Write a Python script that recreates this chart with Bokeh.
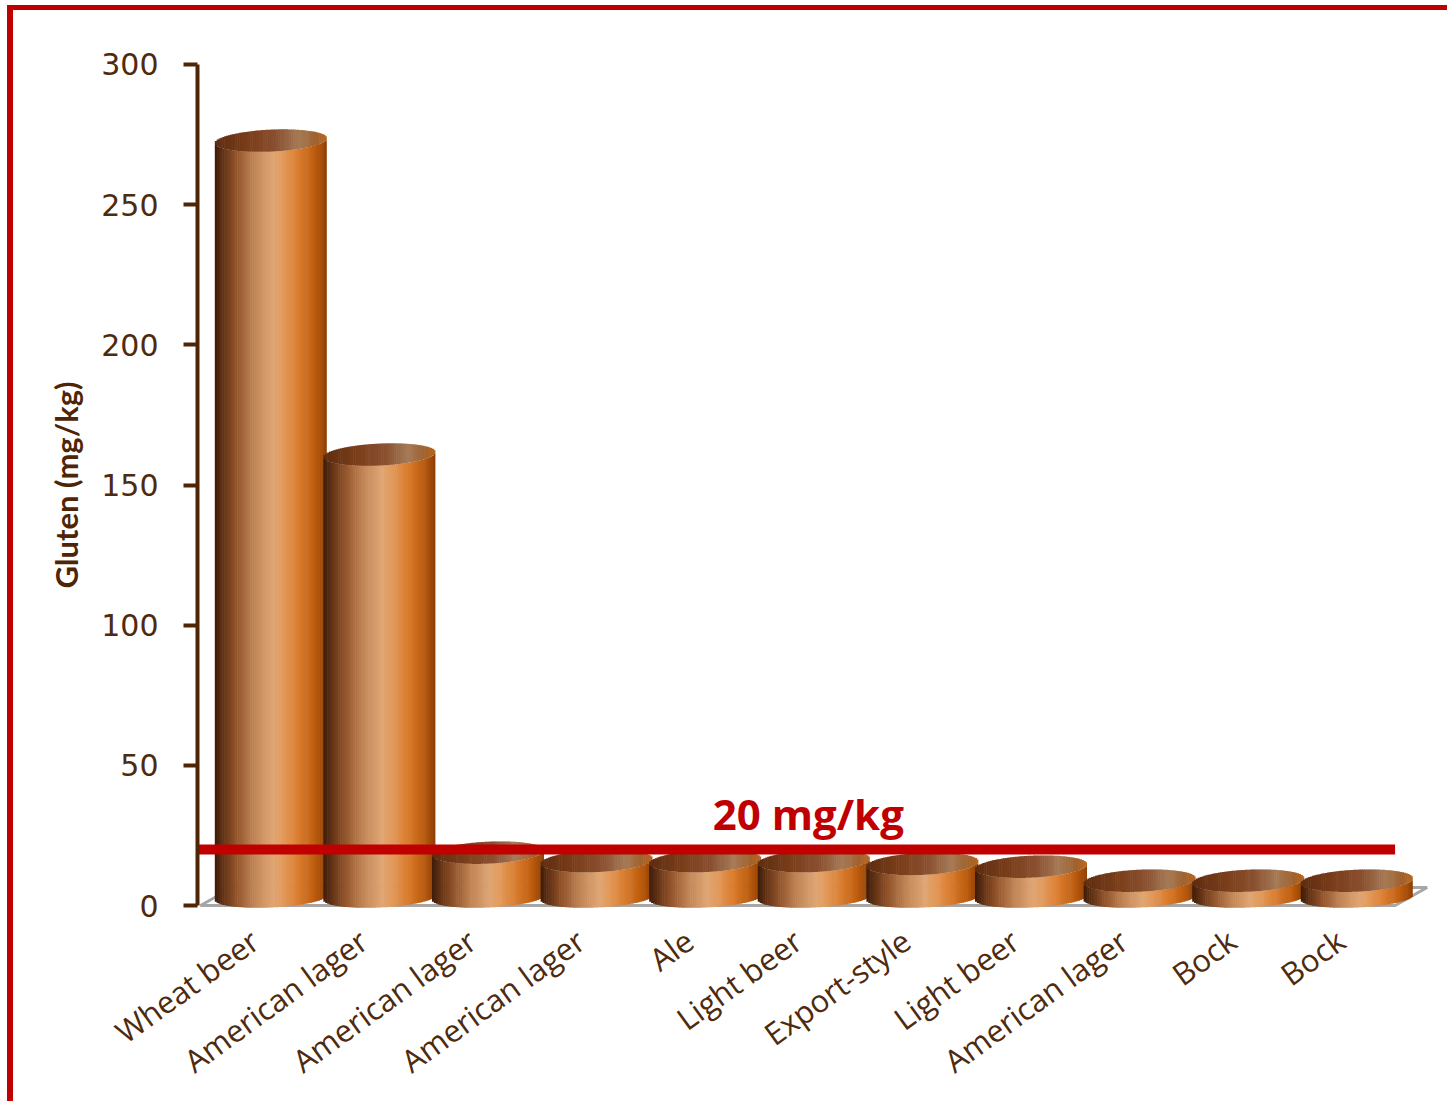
import math
import numpy as np
from bokeh.plotting import figure
from bokeh.models import Range1d, LinearAxis, FixedTicker, ColumnDataSource
from bokeh.core.properties import value
from bokeh.embed import file_html
from bokeh.resources import INLINE

# ---- data -------------------------------------------------------------
beers = ["Wheat beer", "American lager", "American lager", "American lager", "Ale",
         "Light beer", "Export-style", "Light beer", "American lager", "Bock", "Bock"]
gluten = [270, 158, 16, 13, 13, 13, 12, 11, 6, 6, 6]   # mg/kg
threshold = 20
threshold_label = "20 mg/kg"
y_ticks = [0, 50, 100, 150, 200, 250, 300]

# ---- canvas geometry (px) --------------------------------------------
W, H = 1447, 1101
frame_left, frame_top, frame_bottom = 197, 58, 912
zero_px, top_px = 906, 64          # rows of 0 and 300 on the value axis
band_px = 108.6                    # width of one category band
first_band_px = 254.3              # column of the first band centre (front plane)

ppu = (zero_px - top_px) / 300.0   # px per mg/kg
y_start = -(frame_bottom - zero_px) / ppu
y_end = 300 + (top_px - frame_top) / ppu
x_start = (frame_left - first_band_px) / band_px
x_end = (W - first_band_px) / band_px

# 3-D look: depth of the floor and cylinder shape
depth_dx = 32 / band_px
depth_dy = 18 / ppu
half_w = 56 / band_px
base = 8 / ppu
ry_bottom = 10 / ppu
ry_top = 11 / ppu
tilt = 2.5 / ppu
n_strips = 60

body_stops = [(0.00, "#3a1c0a"), (0.06, "#5c2e12"), (0.18, "#8e5028"), (0.35, "#c08556"),
              (0.52, "#dfa674"), (0.62, "#e29858"), (0.75, "#d97c2e"), (0.88, "#c05f10"),
              (0.96, "#a04a08"), (1.00, "#8a3e06")]
lid_stops = [(0.00, "#5e2c10"), (0.30, "#7a3e1a"), (0.55, "#8a5030"), (0.75, "#a57a56"),
             (0.90, "#a0622e"), (1.00, "#b8661e")]


def hex_rgb(h):
    return tuple(int(h[i:i + 2], 16) for i in (1, 3, 5))


def ramp(stops, t):
    for (t0, c0), (t1, c1) in zip(stops[:-1], stops[1:]):
        if t <= t1:
            f = (t - t0) / (t1 - t0) if t1 > t0 else 0
            a, b = hex_rgb(c0), hex_rgb(c1)
            return "#%02x%02x%02x" % tuple(round(a[k] + (b[k] - a[k]) * f) for k in range(3))
    return stops[-1][1]


# cylinders as vertical shaded strips: body first, then the lid, bar by bar
cols = dict(left=[], right=[], bottom=[], top=[], color=[])
step = 2 * half_w / n_strips
for i, v in enumerate(gluten):
    cx = i + depth_dx / 2
    rows = []
    for k in range(n_strips):
        t = (k + 0.5) / n_strips
        u = 2 * t - 1
        s = math.sqrt(max(0.0, 1 - u * u))
        off = u * tilt
        l = cx - half_w + k * step
        r = min(l + step * 1.3, cx + half_w)
        lid_lo = base + v + off - ry_top * s
        lid_hi = base + v + off + ry_top * s
        cols["left"].append(l); cols["right"].append(r)
        cols["bottom"].append(base + off - ry_bottom * s); cols["top"].append(lid_lo)
        cols["color"].append(ramp(body_stops, t))
        rows.append((l, r, lid_lo, lid_hi, ramp(lid_stops, t)))
    for l, r, lo, hi, c in rows:
        cols["left"].append(l); cols["right"].append(r)
        cols["bottom"].append(lo); cols["top"].append(hi)
        cols["color"].append(c)
bars = ColumnDataSource(cols)

n = len(beers)

p = figure(width=W, height=H, x_range=Range1d(x_start, x_end), y_range=Range1d(y_start, y_end),
           min_border_left=frame_left, min_border_right=0, min_border_top=frame_top,
           min_border_bottom=H - frame_bottom, toolbar_location=None, output_backend="svg",
           x_axis_location=None, y_axis_location=None, outline_line_color=None,
           background_fill_color="white", border_fill_color=None)
p.grid.visible = False
# red frame along the left and top edges of the page
p.styles = {"background": "linear-gradient(#c00000, #c00000) 7px 5px / 6px 1096px no-repeat, "
                          "linear-gradient(#c00000, #c00000) 7px 5px / 1440px 5px no-repeat, white"}

# floor of the 3-D plot
p.patch([-0.5, n - 0.5, n - 0.5 + depth_dx, -0.5 + depth_dx], [0, 0, depth_dy, depth_dy],
        fill_color=None, line_color="#a6a6a6", line_width=3)

p.quad(left="left", right="right", bottom="bottom", top="top", fill_color="color",
       line_color=None, source=bars)

# gluten-free threshold
p.segment(x0=[x_start], y0=[threshold], x1=[n - 0.5], y1=[threshold],
          line_color="#c00000", line_width=10, line_cap="butt")
p.text(x=[(n - 1) / 2 + depth_dx / 2 - 0.05], y=[threshold], text=[threshold_label],
       text_font=value("Open Sans"), text_font_style="bold", text_font_size="42px",
       text_color="#c00000", text_align="center", text_baseline="alphabetic", y_offset=-36)

brown = "#4e2506"
yax = LinearAxis(ticker=FixedTicker(ticks=y_ticks), bounds=(0, 300),
                 axis_label="Gluten (mg/kg)")
yax.axis_line_color = brown
yax.axis_line_width = 4
yax.major_tick_line_color = brown
yax.major_tick_line_width = 4
yax.major_tick_out = 14
yax.major_tick_in = 0
yax.minor_tick_line_color = None
yax.major_label_text_font = "DejaVu Sans"
yax.major_label_text_font_size = "30px"
yax.major_label_text_color = "#4e2a0e"
yax.major_label_standoff = 25
yax.axis_label_text_font = "Lato"
yax.axis_label_text_font_style = "bold"
yax.axis_label_text_font_size = "31px"
yax.axis_label_text_color = "#4e2506"
yax.axis_label_standoff = 13
p.add_layout(yax, "left")

# category names under the floor, slanted
xax = LinearAxis(ticker=FixedTicker(ticks=list(range(n))),
                 major_label_overrides={i: name for i, name in enumerate(beers)})
xax.axis_line_color = None
xax.major_tick_line_color = None
xax.minor_tick_line_color = None
xax.major_label_orientation = math.radians(36)
xax.major_label_text_font = "Open Sans"
xax.major_label_text_font_size = "31px"
xax.major_label_text_color = "#4e2a0e"
xax.major_label_standoff = 19
p.add_layout(xax, "below")

open("out.html", "w").write(file_html(p, INLINE))
